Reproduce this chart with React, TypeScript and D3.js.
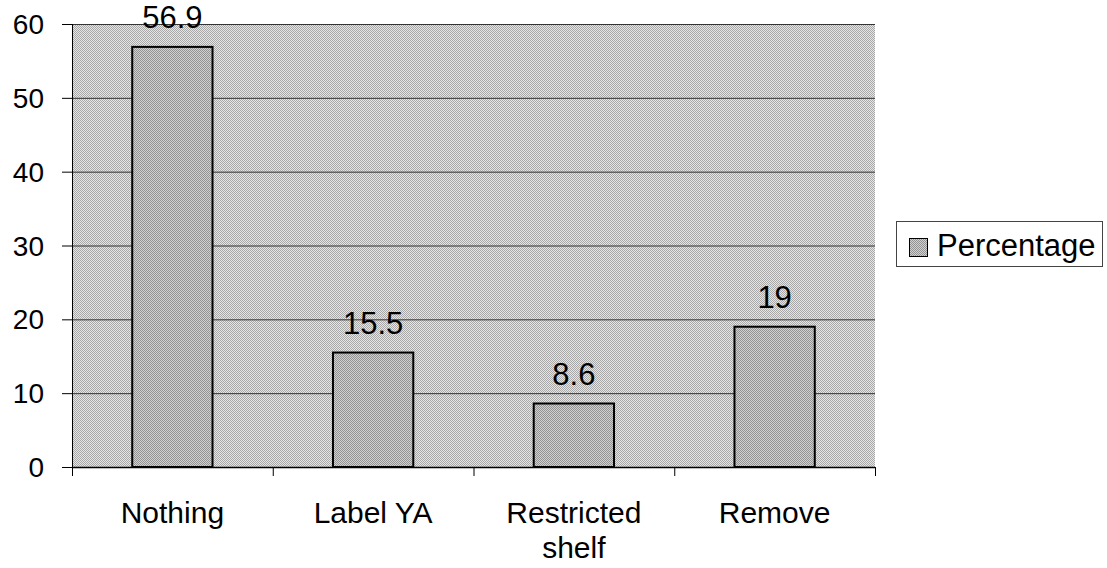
import { useEffect, useRef } from 'react';
import * as d3 from 'd3';

const categories = ['Nothing', 'Label YA', 'Restricted\nshelf', 'Remove'];
const percentage = [56.9, 15.5, 8.6, 19];
const yTicks = [0, 10, 20, 30, 40, 50, 60];
const seriesName = 'Percentage';

const App = () => {
  const svgRef = useRef<SVGSVGElement>(null!);
  const width = 1107;
  const height = 568;
  const left = 72;
  const right = 875;
  const top = 24;
  const bottom = 467;
  const font = '"Liberation Sans", Arial, sans-serif';

  useEffect(() => {
    const svg = d3.select(svgRef.current);
    svg.selectAll('*').remove();
    svg.attr('width', width).attr('height', height);

    const defs = svg.append('defs');
    const bgPat = defs
      .append('pattern')
      .attr('id', 'bgPat')
      .attr('patternUnits', 'userSpaceOnUse')
      .attr('width', 2)
      .attr('height', 2);
    bgPat.append('rect').attr('width', 2).attr('height', 2).attr('fill', '#e6e6e6');
    bgPat.append('rect').attr('width', 1).attr('height', 1).attr('fill', '#a8a8a8');
    bgPat.append('rect').attr('x', 1).attr('y', 1).attr('width', 1).attr('height', 1).attr('fill', '#a8a8a8');

    const barPat = defs
      .append('pattern')
      .attr('id', 'barPat')
      .attr('patternUnits', 'userSpaceOnUse')
      .attr('width', 2)
      .attr('height', 2);
    barPat.append('rect').attr('width', 2).attr('height', 2).attr('fill', '#d0d0d0');
    barPat.append('rect').attr('width', 1).attr('height', 1).attr('fill', '#939393');
    barPat.append('rect').attr('x', 1).attr('y', 1).attr('width', 1).attr('height', 1).attr('fill', '#939393');

    const x = d3.scaleBand<string>().domain(categories).range([left, right]).paddingInner(0.6).paddingOuter(0.3);
    const xStep = d3.scaleLinear().domain([0, categories.length]).range([left, right]);
    const y = d3.scaleLinear().domain([0, 60]).range([bottom, top]);

    // plot background
    svg
      .append('rect')
      .attr('x', left)
      .attr('y', top)
      .attr('width', right - left)
      .attr('height', bottom - top)
      .attr('fill', 'url(#bgPat)');

    // gridlines
    svg
      .append('g')
      .selectAll('line')
      .data(yTicks.filter(d => d > 0))
      .enter()
      .append('line')
      .attr('x1', left)
      .attr('x2', right)
      .attr('y1', d => y(d) + 0.5)
      .attr('y2', d => y(d) + 0.5)
      .attr('stroke', '#333')
      .attr('stroke-width', 1);

    // bars
    svg
      .append('g')
      .selectAll('rect')
      .data(percentage)
      .enter()
      .append('rect')
      .attr('x', (_, i) => x(categories[i])!)
      .attr('y', d => y(d))
      .attr('width', x.bandwidth())
      .attr('height', d => bottom - y(d))
      .attr('fill', 'url(#barPat)')
      .attr('stroke', '#000')
      .attr('stroke-width', 2);

    // value labels
    svg
      .append('g')
      .selectAll('text')
      .data(percentage)
      .enter()
      .append('text')
      .attr('x', (_, i) => x(categories[i])! + x.bandwidth() / 2)
      .attr('y', d => y(d) - 19)
      .attr('text-anchor', 'middle')
      .attr('font-family', font)
      .attr('font-size', 31)
      .attr('fill', '#000')
      .text(d => String(d));

    // y axis
    const yAxis = svg.append('g');
    yAxis
      .append('line')
      .attr('x1', left + 0.5)
      .attr('x2', left + 0.5)
      .attr('y1', top)
      .attr('y2', bottom)
      .attr('stroke', '#000');
    yAxis
      .selectAll('line.tick')
      .data(yTicks)
      .enter()
      .append('line')
      .attr('class', 'tick')
      .attr('x1', left - 10)
      .attr('x2', left)
      .attr('y1', d => y(d) + 0.5)
      .attr('y2', d => y(d) + 0.5)
      .attr('stroke', '#000');
    yAxis
      .selectAll('text')
      .data(yTicks)
      .enter()
      .append('text')
      .attr('x', 44)
      .attr('y', d => y(d) + 10)
      .attr('text-anchor', 'end')
      .attr('font-family', font)
      .attr('font-size', 28)
      .attr('fill', '#000')
      .text(d => String(d));

    // x axis
    const xAxis = svg.append('g');
    xAxis
      .append('line')
      .attr('x1', left)
      .attr('x2', right)
      .attr('y1', bottom + 0.5)
      .attr('y2', bottom + 0.5)
      .attr('stroke', '#000')
      .attr('stroke-width', 1.5);
    xAxis
      .selectAll('line.tick')
      .data(d3.range(categories.length + 1))
      .enter()
      .append('line')
      .attr('class', 'tick')
      .attr('x1', d => xStep(d) + 0.5)
      .attr('x2', d => xStep(d) + 0.5)
      .attr('y1', bottom)
      .attr('y2', bottom + 9)
      .attr('stroke', '#000');
    const labels = xAxis
      .selectAll('text')
      .data(categories)
      .enter()
      .append('text')
      .attr('x', d => x(d)! + x.bandwidth() / 2)
      .attr('y', 523)
      .attr('text-anchor', 'middle')
      .attr('font-family', font)
      .attr('font-size', 30)
      .attr('fill', '#000');
    labels
      .selectAll('tspan')
      .data(d => d.split('\n'))
      .enter()
      .append('tspan')
      .attr('x', function () {
        return (this as SVGTSpanElement).parentElement!.getAttribute('x');
      })
      .attr('dy', (_, i) => (i === 0 ? 0 : 35))
      .text(d => d);

    // legend
    const legend = svg.append('g');
    legend
      .append('rect')
      .attr('x', 896.5)
      .attr('y', 221.5)
      .attr('width', 206)
      .attr('height', 45)
      .attr('fill', '#fff')
      .attr('stroke', '#444');
    legend
      .append('rect')
      .attr('x', 909.5)
      .attr('y', 238.5)
      .attr('width', 18)
      .attr('height', 18)
      .attr('fill', 'url(#barPat)')
      .attr('stroke', '#000');
    legend
      .append('text')
      .attr('x', 937)
      .attr('y', 256)
      .attr('font-family', font)
      .attr('font-size', 31)
      .attr('fill', '#000')
      .text(seriesName);

    return () => {
      svg.selectAll('*').remove();
    };
  }, []);

  return <svg ref={svgRef} style={{ position: 'absolute', left: 0, top: 0, background: '#fff' }}></svg>;
};

export default App;
